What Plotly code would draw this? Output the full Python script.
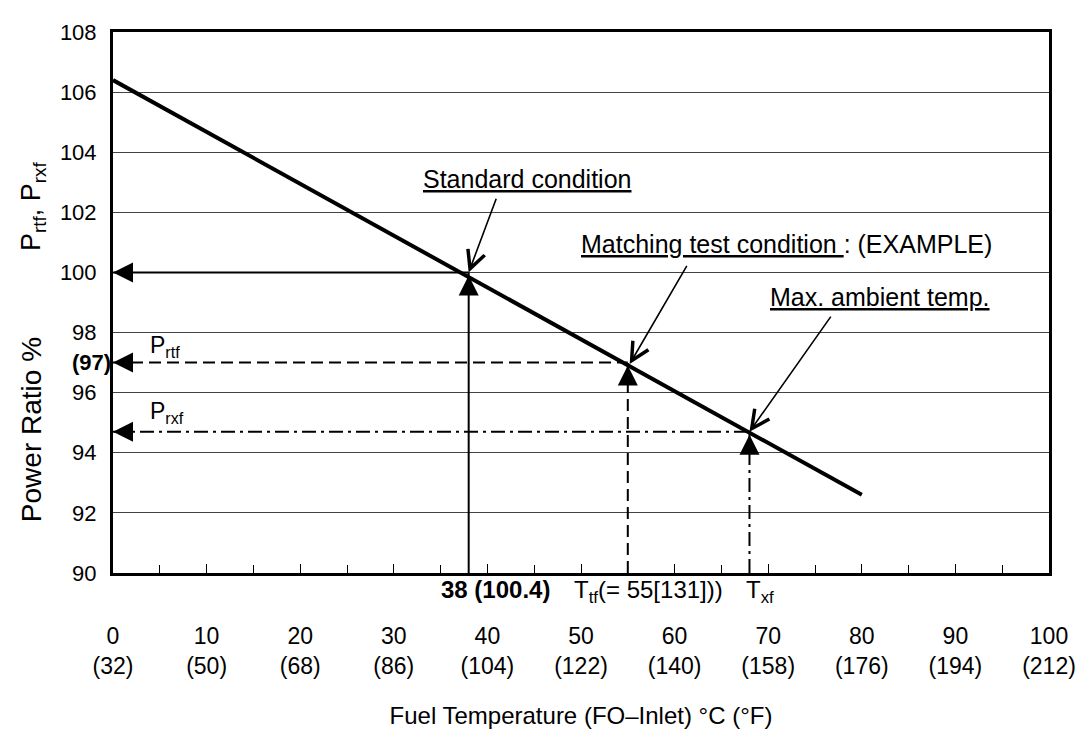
import plotly.graph_objects as go

# ---- data ----
temp_c = [0, 10, 20, 30, 40, 50, 60, 70, 80, 90, 100]
temp_f = [32, 50, 68, 86, 104, 122, 140, 158, 176, 194, 212]
y_ticks = [90, 92, 94, 96, 98, 100, 102, 104, 106, 108]

line_t = [0, 80]            # fuel temperature °C
line_p = [106.4, 92.6]      # power ratio %

std_t, std_p = 38, 100.0      # standard condition
match_t, match_p = 55, 97.0   # matching test condition (example)
max_t, max_p = 68, 94.7       # max. ambient temp.

x_labels = [f"{c}<br>({f})" for c, f in zip(temp_c, temp_f)]

FONT = "Liberation Sans, Arial, Helvetica, sans-serif"

fig = go.Figure()

# main characteristic line
fig.add_trace(go.Scatter(x=line_t, y=line_p, mode="lines",
                         line=dict(color="black", width=4), hoverinfo="skip"))

# reference lines
def hv(t, p, dash):
    fig.add_trace(go.Scatter(x=[0, t], y=[p, p], mode="lines",
                             line=dict(color="black", width=2, dash=dash), hoverinfo="skip"))
    fig.add_trace(go.Scatter(x=[t, t], y=[90, p], mode="lines",
                             line=dict(color="black", width=2, dash=dash), hoverinfo="skip"))

hv(std_t, std_p, "solid")
hv(match_t, match_p, "12px,6px")
hv(max_t, max_p, "14px,5px,3px,5px")

ann = []
# filled arrowheads
for t, p in [(std_t, std_p), (match_t, match_p), (max_t, max_p)]:
    ann.append(dict(x=0, y=p, xref="x", yref="y", ax=20, ay=0, text="",
                    showarrow=True, arrowhead=2, arrowsize=2, arrowwidth=2,
                    arrowcolor="black", standoff=0))
    ann.append(dict(x=t, y=p - 0.1, xref="x", yref="y", ax=0, ay=20, text="",
                    showarrow=True, arrowhead=2, arrowsize=2, arrowwidth=2,
                    arrowcolor="black", standoff=0))

# callout arrows (open heads)
for (tx, ty), (hx, hy) in [((41.0, 102.5), (std_t, std_p)),
                           ((61.4, 100.27), (match_t + 0.2, match_p - 0.05)),
                           ((76.8, 98.58), (max_t, max_p))]:
    ann.append(dict(x=hx, y=hy, xref="x", yref="y", ax=tx, ay=ty, axref="x", ayref="y",
                    text="", showarrow=True, arrowhead=5, arrowsize=2.2, arrowwidth=1.6,
                    arrowcolor="black", standoff=0))

# callout labels
CALL = dict(family=FONT, size=25, color="black")
ann.append(dict(x=44.2, y=103.1, xref="x", yref="y", text="<u>Standard condition</u>",
                showarrow=False, font=CALL))
ann.append(dict(x=72.0, y=100.93, xref="x", yref="y",
                text="<u>Matching test condition </u>: (EXAMPLE)",
                showarrow=False, font=CALL))
ann.append(dict(x=81.9, y=99.17, xref="x", yref="y", text="<u>Max. ambient temp.</u>",
                showarrow=False, font=CALL))

# P labels on the left
ann.append(dict(x=3.7, y=97.55, xref="x", yref="y", xanchor="left", text="P<sub>rtf</sub>",
                showarrow=False, font=dict(family=FONT, size=23, color="black")))
ann.append(dict(x=3.7, y=95.35, xref="x", yref="y", xanchor="left", text="P<sub>rxf</sub>",
                showarrow=False, font=dict(family=FONT, size=23, color="black")))
ann.append(dict(x=0, y=match_p, xref="paper", yref="y", xanchor="right", xshift=0,
                text=f"<b>({match_p:.0f})</b>", showarrow=False,
                font=dict(family=FONT, size=22, color="black")))

# labels below x axis
BOT = dict(family=FONT, size=24, color="black")
ann.append(dict(x=std_t, y=0, xref="x", yref="paper", xanchor="left", yanchor="top",
                xshift=-30, yshift=-1, text="<b>38 (100.4)</b>", showarrow=False, font=BOT))
ann.append(dict(x=match_t, y=0, xref="x", yref="paper", xanchor="left", yanchor="top",
                xshift=-56, yshift=-1, text="T<sub>tf</sub>(= 55[131]))", showarrow=False, font=BOT))
ann.append(dict(x=max_t, y=0, xref="x", yref="paper", xanchor="left", yanchor="top",
                xshift=-5, yshift=-1, text="T<sub>xf</sub>", showarrow=False, font=BOT))

# y-axis titles
ann.append(dict(x=-0.105, y=94.76, xref="paper", yref="y", text="Power Ratio %",
                textangle=-90, showarrow=False, font=dict(family=FONT, size=28, color="black")))
ann.append(dict(x=-0.105, y=102.2, xref="paper", yref="y", text="P<sub>rtf</sub>, P<sub>rxf</sub>",
                textangle=-90, showarrow=False, font=dict(family=FONT, size=27, color="black")))

fig.update_layout(
    width=1081, height=732,
    margin=dict(l=105, r=40, t=13, b=167),
    paper_bgcolor="white", plot_bgcolor="white",
    showlegend=False,
    annotations=ann,
    xaxis=dict(range=[0, 100], tickvals=temp_c, ticktext=x_labels,
               ticks="inside", ticklen=9, tickcolor="black", tickwidth=1,
               minor=dict(dtick=5, ticks="inside", ticklen=8, tickcolor="black", tickwidth=1),
               showgrid=False, zeroline=False,
               showline=True, linecolor="black", linewidth=3, mirror=True,
               ticklabelstandoff=40,
               tickfont=dict(family=FONT, size=23, color="black"),
               title=dict(text="Fuel Temperature (FO–Inlet) °C (°F)",
                          font=dict(family=FONT, size=24, color="black"), standoff=30)),
    yaxis=dict(range=[90, 108], tickvals=y_ticks, ticks="",
               showgrid=True, gridcolor="#444444", gridwidth=1, zeroline=False,
               showline=True, linecolor="black", linewidth=3, mirror=True,
               ticklabelstandoff=9,
               tickfont=dict(family=FONT, size=22, color="black")),
)

fig.write_html("out.html")
